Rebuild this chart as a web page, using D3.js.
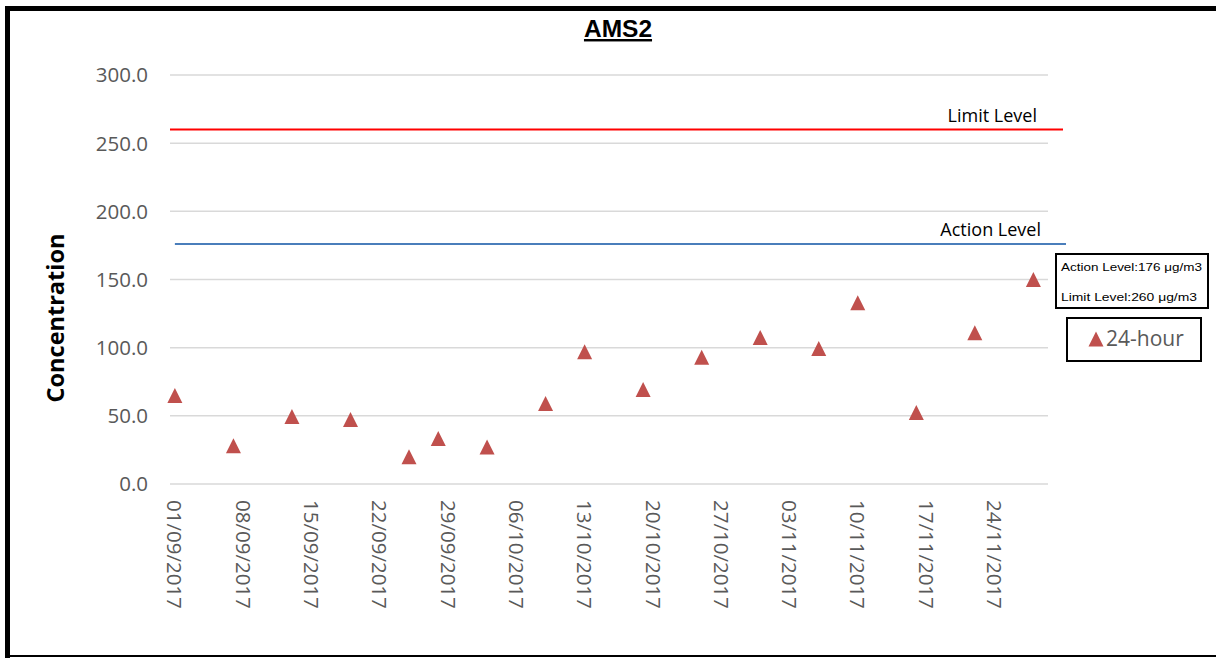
<!DOCTYPE html>
<html>
<head>
<meta charset="utf-8">
<script src="https://cdn.jsdelivr.net/npm/d3@7"></script>
<style>
  html, body { margin: 0; padding: 0; background: #fff; }
  svg { display: block; }
</style>
</head>
<body>
<div id="chart"></div>
<script>
// dates of 24-hour samples and measured concentrations
const sampleDates = ['01/09/2017', '07/09/2017', '13/09/2017', '19/09/2017', '25/09/2017', '28/09/2017',
    '03/10/2017', '09/10/2017', '13/10/2017', '19/10/2017', '25/10/2017', '31/10/2017',
    '06/11/2017', '10/11/2017', '16/11/2017', '22/11/2017', '28/11/2017']
const sampleValues = [65, 28, 49.5, 47.3, 20, 33.4, 27.1, 59, 97, 69.3, 93, 107.5, 99.4, 133, 52.4, 111, 150]

const tickDates = ['01/09/2017', '08/09/2017', '15/09/2017', '22/09/2017', '29/09/2017', '06/10/2017',
    '13/10/2017', '20/10/2017', '27/10/2017', '03/11/2017', '10/11/2017', '17/11/2017', '24/11/2017']
const yTicks = [0, 50, 100, 150, 200, 250, 300]

const actionLevel = 176
const limitLevel = 260
const legendNotes = ['Action Level:176 μg/m3', 'Limit Level:260 μg/m3']

const parse = d3.utcParse('%d/%m/%Y')
const fmt = d3.utcFormat('%d/%m/%Y')

const width = 1216
const height = 658

const svg = d3.select('#chart')
    .append('svg')
    .attr('width', width)
    .attr('height', height)

// marcos negros del recuadro
svg.append('rect').attr('x', 5).attr('y', 6).attr('width', width - 5).attr('height', 5).attr('fill', '#000')
svg.append('rect').attr('x', 5).attr('y', 6).attr('width', 5).attr('height', height - 6).attr('fill', '#000')
svg.append('rect').attr('x', 5).attr('y', 655).attr('width', width - 5).attr('height', 2).attr('fill', '#000')

const start = d3.utcHour.offset(parse('01/09/2017'), -12)
const end = d3.utcDay.offset(start, 90)

const x = d3.scaleUtc().domain([start, end]).range([170, 1048])
const y = d3.scaleLinear().domain([0, 300]).range([484, 75])

// gridlines
svg.append('g')
    .selectAll('line')
    .data(yTicks)
    .join('line')
    .attr('x1', x.range()[0])
    .attr('x2', x.range()[1])
    .attr('y1', d => y(d))
    .attr('y2', d => y(d))
    .attr('stroke', '#d9d9d9')
    .attr('stroke-width', 1.5)

// y axis labels
svg.append('g')
    .selectAll('text')
    .data(yTicks)
    .join('text')
    .attr('x', 148)
    .attr('y', d => y(d))
    .attr('dy', '0.36em')
    .attr('text-anchor', 'end')
    .attr('font-family', 'Open Sans, sans-serif')
    .attr('font-size', 20.5)
    .attr('fill', '#595959')
    .text(d => d.toFixed(1))

// x axis labels, rotated
svg.append('g')
    .selectAll('text')
    .data(tickDates.map(parse))
    .join('text')
    .attr('transform', d => `translate(${x(d)},500) rotate(90)`)
    .attr('dy', '0.36em')
    .attr('text-anchor', 'start')
    .attr('font-family', 'Open Sans, sans-serif')
    .attr('font-size', 20.5)
    .attr('fill', '#595959')
    .text(d => fmt(d))

// limit & action lines
svg.append('line')
    .attr('x1', 170).attr('x2', 1063)
    .attr('y1', y(limitLevel)).attr('y2', y(limitLevel))
    .attr('stroke', '#ff0000').attr('stroke-width', 2)

svg.append('line')
    .attr('x1', x(parse('01/09/2017'))).attr('x2', 1066)
    .attr('y1', y(actionLevel)).attr('y2', y(actionLevel))
    .attr('stroke', '#4a7ebb').attr('stroke-width', 2)

svg.append('text')
    .attr('x', 1037).attr('y', y(limitLevel) - 8)
    .attr('text-anchor', 'end')
    .attr('font-family', 'Open Sans, sans-serif')
    .attr('font-size', 18)
    .attr('fill', '#000')
    .text('Limit Level')

svg.append('text')
    .attr('x', 1041).attr('y', y(actionLevel) - 8)
    .attr('text-anchor', 'end')
    .attr('font-family', 'Open Sans, sans-serif')
    .attr('font-size', 18)
    .attr('fill', '#000')
    .text('Action Level')

// triangulo como en Excel, centrado en su caja
const tri = 'M0,-7.5 L7.5,7.5 L-7.5,7.5 Z'

svg.append('g')
    .selectAll('path')
    .data(sampleDates.map((d, i) => ({ date: parse(d), value: sampleValues[i] })))
    .join('path')
    .attr('transform', d => `translate(${x(d.date)},${y(d.value)})`)
    .attr('d', tri)
    .attr('fill', '#c0504d')

// title
svg.append('text')
    .attr('x', 618).attr('y', 37)
    .attr('text-anchor', 'middle')
    .attr('font-family', 'Liberation Sans, Arial, sans-serif')
    .attr('font-weight', 'bold')
    .attr('font-size', 24.5)
    .attr('text-decoration', 'underline')
    .attr('fill', '#000')
    .text('AMS2')

// y axis title
svg.append('text')
    .attr('transform', 'translate(64,318) rotate(-90)')
    .attr('text-anchor', 'middle')
    .attr('font-family', 'Open Sans, sans-serif')
    .attr('font-weight', 'bold')
    .attr('font-size', 23.5)
    .attr('fill', '#000')
    .text('Concentration')

// note box with levels
svg.append('rect')
    .attr('x', 1056).attr('y', 254).attr('width', 152).attr('height', 54)
    .attr('fill', '#fff').attr('stroke', '#000').attr('stroke-width', 2)

svg.append('g')
    .selectAll('text')
    .data(legendNotes)
    .join('text')
    .attr('x', 1061)
    .attr('y', (d, i) => 271 + i * 30)
    .attr('font-family', 'Liberation Sans, Arial, sans-serif')
    .attr('font-size', 11)
    .attr('textLength', (d, i) => i == 0 ? 141 : 136)
    .attr('lengthAdjust', 'spacingAndGlyphs')
    .attr('fill', '#000')
    .text(d => d)

// legend
svg.append('rect')
    .attr('x', 1067).attr('y', 318).attr('width', 134).attr('height', 43)
    .attr('fill', '#fff').attr('stroke', '#000').attr('stroke-width', 2)

svg.append('path')
    .attr('transform', 'translate(1096,339)')
    .attr('d', tri)
    .attr('fill', '#c0504d')

svg.append('text')
    .attr('x', 1106).attr('y', 346)
    .attr('font-family', 'Open Sans, sans-serif')
    .attr('font-size', 21)
    .attr('fill', '#595959')
    .text('24-hour')
</script>
</body>
</html>
